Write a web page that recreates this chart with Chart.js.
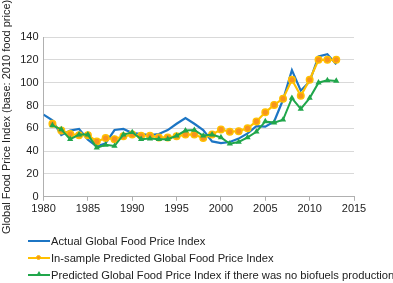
<!DOCTYPE html>
<html>
<head>
<meta charset="utf-8">
<script src="https://cdn.jsdelivr.net/npm/chart.js@4"></script>
<style>
  html, body { margin: 0; padding: 0; background: #fff; }
  #wrap { position: relative; width: 393px; height: 283px; overflow: hidden; }
  #legend { position: absolute; left: 28px; top: 232px; font: 11.2px "Liberation Sans", Arial, sans-serif; color: #222; }
  .row { height: 17.4px; display: flex; align-items: center; white-space: nowrap; }
  .key { position: relative; width: 22px; height: 10px; margin-right: 1px; }
  .key .ln { position: absolute; left: 0; right: 0; top: 4px; height: 2px; }
  .key .dot { position: absolute; left: 8px; top: 2px; width: 3px; height: 3px; border-radius: 50%; border: 1.5px solid #ffc000; background: #f7941d; }
  .key .tri { position: absolute; left: 8px; top: 1px; width: 0; height: 0; border-left: 3px solid transparent; border-right: 3px solid transparent; border-bottom: 5px solid #20a64b; }
</style>
</head>
<body>
<div id="wrap">
  <canvas id="c" width="393" height="283"></canvas>
  <div id="legend"></div>
</div>
<script>
// годы и ряды
const years = [1980, 1981, 1982, 1983, 1984, 1985, 1986, 1987, 1988, 1989,
               1990, 1991, 1992, 1993, 1994, 1995, 1996, 1997, 1998, 1999,
               2000, 2001, 2002, 2003, 2004, 2005, 2006, 2007, 2008, 2009,
               2010, 2011, 2012, 2013];

const actual = [72, 67, 54, 58, 59.5, 50, 44, 47, 58.5, 59.5,
                56, 55, 54, 55, 58.5, 64, 69, 64, 58.5, 48.5,
                47, 48, 51, 55.5, 62, 61.5, 66, 85, 111, 93,
                101, 123, 125, 116];

const inSample = [null, 64, 58, 55, 54, 54, 48.5, 51.5, 50.5, 53,
                  54.5, 53.5, 53.5, 52, 52, 53, 54.5, 54.5, 51.5, 54.5,
                  59, 57, 57.5, 60, 66, 74, 80.5, 86, 102.5, 88.5,
                  102.5, 120, 120, 120];

const noBiofuels = [null, 62.5, 59, 50.5, 54.5, 54.5, 43, 45.5, 44.5, 54.5,
                    56.5, 50.5, 51, 50.5, 50.5, 53.5, 58, 58.5, 53.5, 54.5,
                    52, 46.5, 48, 52, 57, 66, 65, 67.5, 86.5, 77,
                    86.5, 100, 102, 101.5];

const seriesNames = [
    "Actual Global Food Price Index",
    "In-sample Predicted Global Food Price Index",
    "Predicted Global Food Price Index if there was no biofuels production",
];
const yTitle = "Global Food Price Index (base: 2010 food price)";

const FONT = "'Liberation Sans', Arial, sans-serif";

function pts(vals) {
    return years.map((y, i) => ({ x: y, y: vals[i] })).filter(p => p.y !== null);
}

new Chart(document.getElementById("c"), {
    type: "line",
    data: {
        datasets: [
            {
                label: seriesNames[0], data: pts(actual), order: 3,
                borderColor: "#1c75c4", borderWidth: 2.2, pointRadius: 0, tension: 0,
            },
            {
                label: seriesNames[1], data: pts(inSample), order: 2,
                borderColor: "#ffc000", borderWidth: 2.2, tension: 0,
                pointStyle: "circle", pointRadius: 3.3, pointBorderWidth: 1.4,
                pointBackgroundColor: "#f7941d", pointBorderColor: "#ffc000",
            },
            {
                label: seriesNames[2], data: pts(noBiofuels), order: 1,
                borderColor: "#20a64b", borderWidth: 2, tension: 0,
                pointStyle: "triangle", pointRadius: 3.6, pointBorderWidth: 0,
                pointBackgroundColor: "#20a64b", pointBorderColor: "#20a64b",
            },
        ],
    },
    options: {
        responsive: false,
        animation: false,
        layout: { padding: { left: 0, top: 37, right: 39, bottom: 65 } },
        plugins: { legend: { display: false }, tooltip: { enabled: false } },
        scales: {
            x: {
                type: "linear", min: 1980, max: 2015,
                ticks: { stepSize: 5, padding: 2, color: "#222", font: { family: FONT, size: 11 },
                         callback: v => String(v), maxRotation: 0 },
                grid: { drawOnChartArea: false, drawTicks: true, tickLength: 4, color: "#b0b0b0" },
                border: { color: "#b0b0b0", width: 1 },
            },
            y: {
                min: 0, max: 140,
                ticks: { stepSize: 20, padding: 5, color: "#222", font: { family: FONT, size: 11 } },
                grid: { drawTicks: false, color: "#d9d9d9", lineWidth: 1 },
                border: { color: "#b0b0b0", width: 1 },
                title: { display: true, text: yTitle, color: "#222", padding: { top: 0, bottom: 2 },
                         font: { family: FONT, size: 11 } },
            },
        },
    },
});

// легенда снизу, по одной строке на ряд
const legend = document.getElementById("legend");
const keys = [
    '<div class="ln" style="background:#1c75c4"></div>',
    '<div class="ln" style="background:#ffc000"></div><div class="dot"></div>',
    '<div class="ln" style="background:#20a64b"></div><div class="tri"></div>',
];
seriesNames.forEach((name, i) => {
    const row = document.createElement("div");
    row.className = "row";
    row.innerHTML = `<div class="key">${keys[i]}</div>`;
    const span = document.createElement("span");
    span.textContent = name;
    row.appendChild(span);
    legend.appendChild(row);
});
</script>
</body>
</html>
